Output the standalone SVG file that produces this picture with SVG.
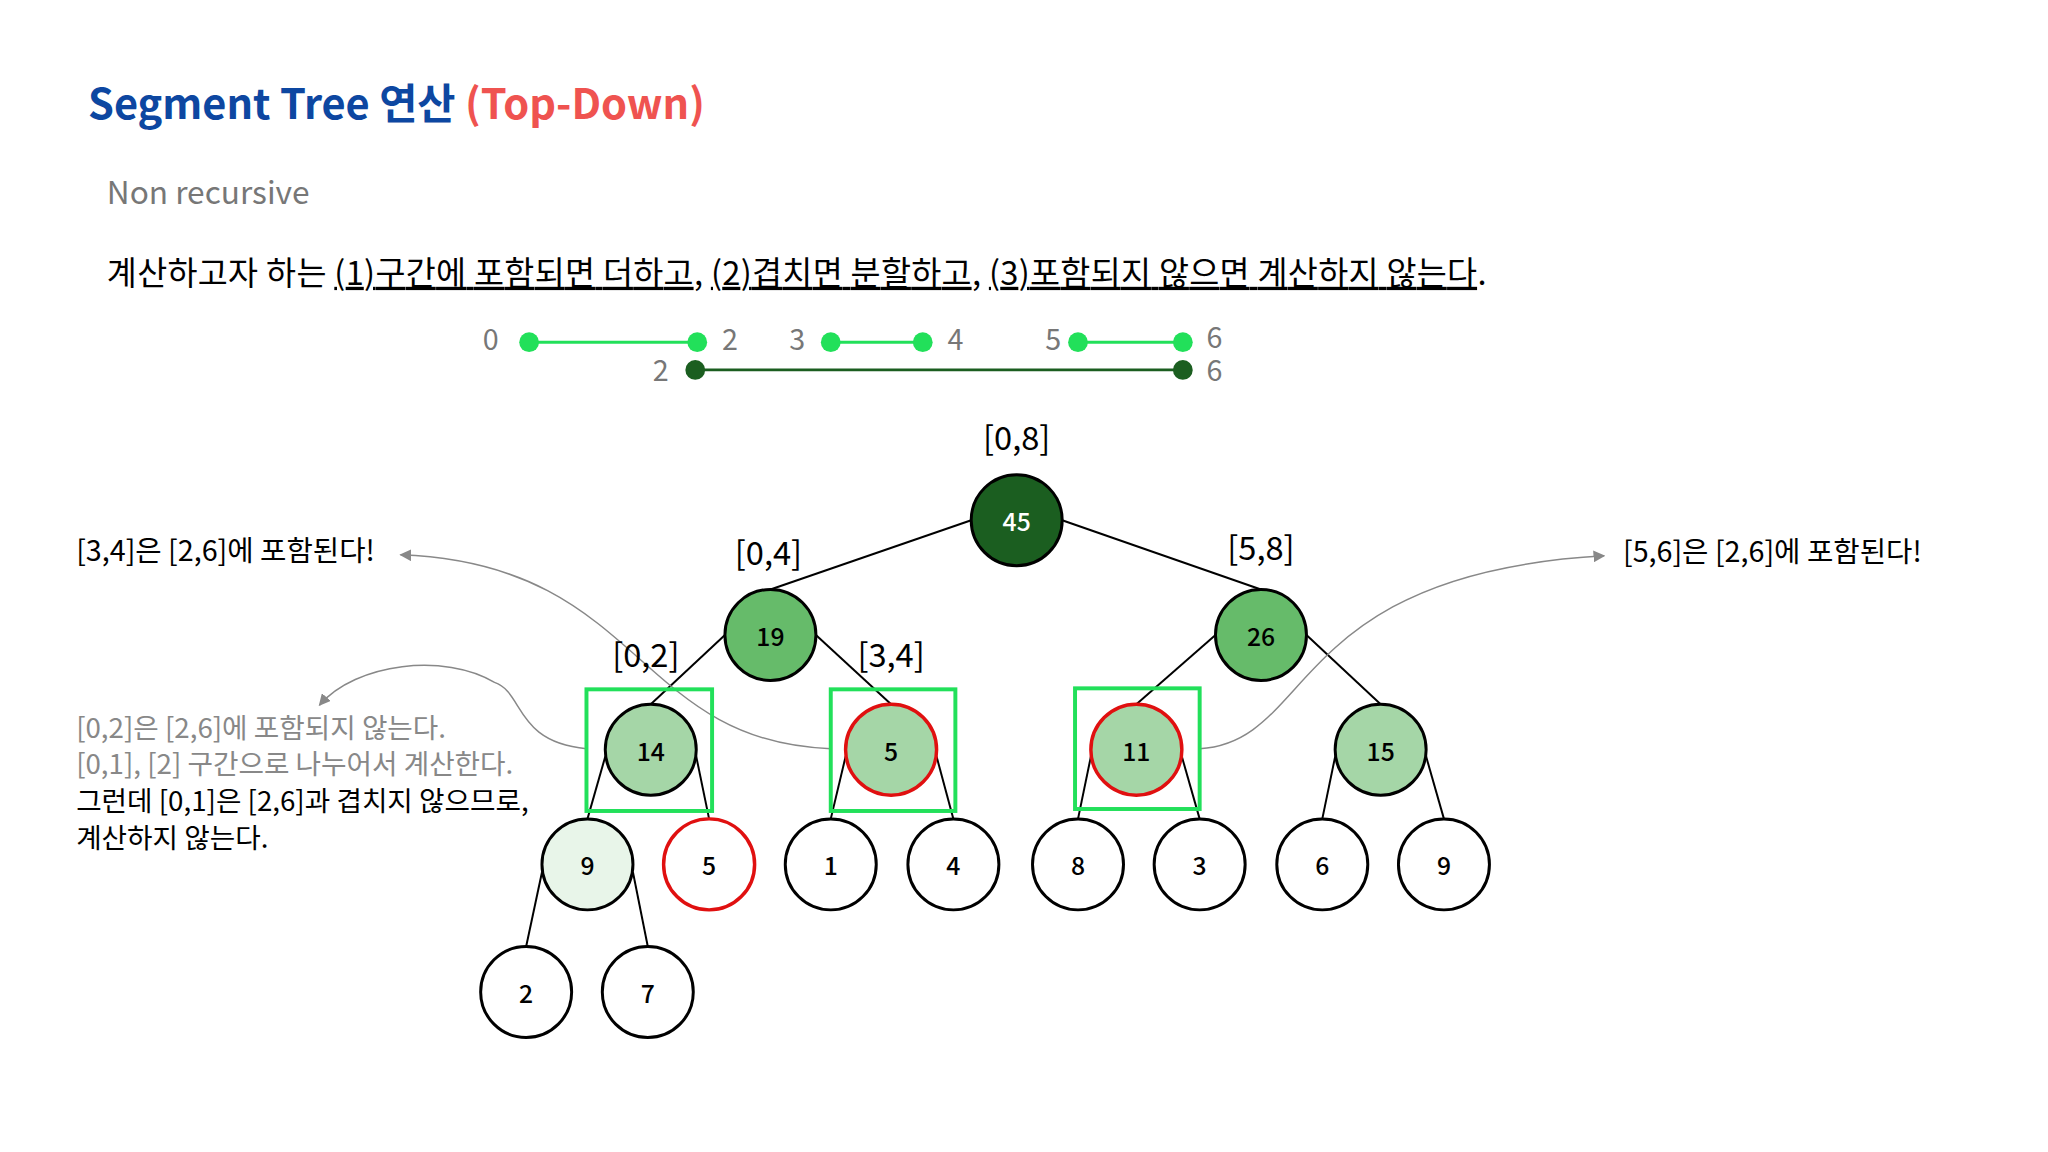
<svg xmlns="http://www.w3.org/2000/svg" width="2048" height="1152" viewBox="0 0 2048 1152">
<defs>
<style>
text{font-family:"Noto Sans CJK KR","Noto Sans",sans-serif}
.n circle{stroke:#000;stroke-width:3}
.n text{font-size:25px;text-anchor:middle;dominant-baseline:central;font-weight:500}
.lbl{font-size:33px;text-anchor:middle}
.e line{stroke:#000;stroke-width:2}
.box{fill:none;stroke:#22e05a;stroke-width:4}
.red{stroke:#e01010 !important;stroke-width:3.5 !important}
.arr{fill:none;stroke:#888;stroke-width:1.5;marker-end:url(#ah)}
.num{font-size:29px;fill:#777}
.u{text-decoration:underline}
</style>
<marker id="ah" viewBox="0 0 10 10" refX="9" refY="5" markerWidth="8" markerHeight="8" orient="auto"><path d="M0,0L10,5L0,10z" fill="#888"/></marker>
</defs>
<rect width="2048" height="1152" fill="#fff"/>
<g transform="scale(0.989)">
<text x="89" y="120" font-size="42" font-weight="700" fill="#0d47a1">Segment Tree 연산 <tspan fill="#ef5350">(Top-Down)</tspan></text>
<text x="108" y="206" font-size="32" fill="#777">Non recursive</text>
<text x="108" y="288" font-size="33" fill="#000" textLength="1395" lengthAdjust="spacing">계산하고자 하는 <tspan class="u">(1)구간에 포함되면 더하고</tspan>, <tspan class="u">(2)겹치면 분할하고</tspan>, <tspan class="u">(3)포함되지 않으면 계산하지 않는다</tspan>.</text>
<g id="intervals">
<line x1="535" y1="346" x2="705" y2="346" stroke="#22e05a" stroke-width="3"/>
<line x1="840" y1="346" x2="933" y2="346" stroke="#22e05a" stroke-width="3"/>
<line x1="1090" y1="346" x2="1196" y2="346" stroke="#22e05a" stroke-width="3"/>
<line x1="703" y1="374" x2="1196" y2="374" stroke="#1b5e20" stroke-width="3"/>
<g fill="#22e05a"><circle cx="535" cy="346" r="10"/><circle cx="705" cy="346" r="10"/><circle cx="840" cy="346" r="10"/><circle cx="933" cy="346" r="10"/><circle cx="1090" cy="346" r="10"/><circle cx="1196" cy="346" r="10"/></g>
<g fill="#1b5e20"><circle cx="703" cy="374" r="10"/><circle cx="1196" cy="374" r="10"/></g>
<text class="num" x="488" y="354">0</text><text class="num" x="730" y="354">2</text><text class="num" x="798" y="354">3</text><text class="num" x="958" y="354">4</text><text class="num" x="1057" y="354">5</text><text class="num" x="1220" y="352">6</text>
<text class="num" x="660" y="385">2</text><text class="num" x="1220" y="385">6</text>
</g>
<g id="connectors" class="e">
<line x1="982" y1="526" x2="779" y2="596"/><line x1="1074" y1="526" x2="1275" y2="596"/>
<line x1="733" y1="642" x2="658" y2="712"/><line x1="825" y1="642" x2="901" y2="712"/>
<line x1="1229" y1="642" x2="1149" y2="712"/><line x1="1321" y1="642" x2="1396" y2="712"/>
<line x1="612" y1="765" x2="594" y2="828"/><line x1="704" y1="765" x2="717" y2="828"/>
<line x1="855" y1="765" x2="840" y2="828"/><line x1="947" y1="765" x2="964" y2="828"/>
<line x1="1103" y1="765" x2="1090" y2="828"/><line x1="1195" y1="765" x2="1213" y2="828"/>
<line x1="1350" y1="765" x2="1337" y2="828"/><line x1="1442" y1="765" x2="1460" y2="828"/>
<line x1="548" y1="882" x2="532" y2="957"/><line x1="640" y1="882" x2="655" y2="957"/>
<path class="arr" d="M840 757 C640 750 650 570 405 561"/>
<path class="arr" d="M1213 757 C1330 750 1300 580 1622 562"/>
<path class="arr" d="M593 757 C520 750 530 700 500 690 C450 660 360 670 323 713"/>
</g>
<g id="n45" class="n"><circle cx="1028" cy="526" r="46" fill="#1b5e20"/><text x="1028" y="526" fill="#fff">45</text></g>
<g id="n19" class="n"><circle cx="779" cy="642" r="46" fill="#66bb6a"/><text x="779" y="642">19</text></g>
<g id="n26" class="n"><circle cx="1275" cy="642" r="46" fill="#66bb6a"/><text x="1275" y="642">26</text></g>
<g id="n14" class="n"><circle cx="658" cy="758" r="46" fill="#a5d6a7"/><text x="658" y="758">14</text></g>
<g id="n5a" class="n"><circle class="red" cx="901" cy="758" r="46" fill="#a5d6a7"/><text x="901" y="758">5</text></g>
<g id="n11" class="n"><circle class="red" cx="1149" cy="758" r="46" fill="#a5d6a7"/><text x="1149" y="758">11</text></g>
<g id="n15" class="n"><circle cx="1396" cy="758" r="46" fill="#a5d6a7"/><text x="1396" y="758">15</text></g>
<g id="n9a" class="n"><circle cx="594" cy="874" r="46" fill="#e8f5e9"/><text x="594" y="874">9</text></g>
<g id="n5b" class="n"><circle class="red" cx="717" cy="874" r="46" fill="#fff"/><text x="717" y="874">5</text></g>
<g id="n1" class="n"><circle cx="840" cy="874" r="46" fill="#fff"/><text x="840" y="874">1</text></g>
<g id="n4" class="n"><circle cx="964" cy="874" r="46" fill="#fff"/><text x="964" y="874">4</text></g>
<g id="n8" class="n"><circle cx="1090" cy="874" r="46" fill="#fff"/><text x="1090" y="874">8</text></g>
<g id="n3" class="n"><circle cx="1213" cy="874" r="46" fill="#fff"/><text x="1213" y="874">3</text></g>
<g id="n6" class="n"><circle cx="1337" cy="874" r="46" fill="#fff"/><text x="1337" y="874">6</text></g>
<g id="n9b" class="n"><circle cx="1460" cy="874" r="46" fill="#fff"/><text x="1460" y="874">9</text></g>
<g id="n2" class="n"><circle cx="532" cy="1003" r="46" fill="#fff"/><text x="532" y="1003">2</text></g>
<g id="n7" class="n"><circle cx="655" cy="1003" r="46" fill="#fff"/><text x="655" y="1003">7</text></g>
<g id="boxes">
<rect class="box" x="593" y="697" width="127" height="123"/>
<rect class="box" x="840" y="697" width="126" height="123"/>
<rect class="box" x="1087" y="696" width="126" height="122"/>
</g>
<g id="labels">
<text class="lbl" x="1028" y="455">[0,8]</text>
<text class="lbl" x="777" y="571">[0,4]</text>
<text class="lbl" x="1275" y="566">[5,8]</text>
<text class="lbl" x="653" y="674">[0,2]</text>
<text class="lbl" x="901" y="674">[3,4]</text>
</g>
<g id="notes">
<text x="77" y="567" font-size="29">[3,4]은 [2,6]에 포함된다!</text>
<text x="1641" y="568" font-size="29">[5,6]은 [2,6]에 포함된다!</text>
<text x="77" y="746" font-size="28" fill="#888">[0,2]은 [2,6]에 포함되지 않는다.</text>
<text x="77" y="783" font-size="28" fill="#888">[0,1], [2] 구간으로 나누어서 계산한다.</text>
<text x="77" y="820" font-size="28">그런데 [0,1]은 [2,6]과 겹치지 않으므로,</text>
<text x="77" y="857" font-size="28">계산하지 않는다.</text>
</g>
</g>
</svg>
